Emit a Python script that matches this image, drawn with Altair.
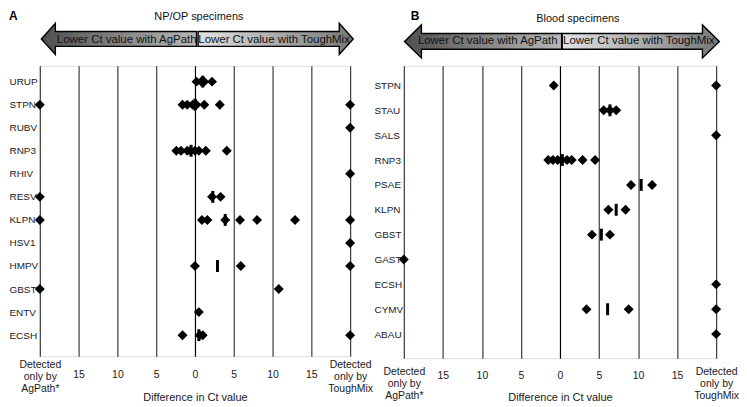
import altair as alt
import pandas as pd

# ---------------- Panel A: NP/OP specimens ----------------
A_ROWS = ["URUP", "STPN", "RUBV", "RNP3", "RHIV", "RESV",
          "KLPN", "HSV1", "HMPV", "GBST", "ENTV", "ECSH"]
A_URUP = [0.2, 0.8, 1.2, 2.2]
A_STPN = [-20, -1.6, -1.0, -0.3, 0.2, 1.2, 3.2, 20]
A_RUBV = [20]
A_RNP3 = [-2.4, -1.8, -1.0, -0.6, 0.0, 0.5, 1.4, 4.1]
A_RHIV = [20]
A_RESV = [-20, 2.2, 3.3]
A_KLPN = [-20, 0.9, 1.6, 3.9, 5.8, 8.0, 12.9, 20]
A_HSV1 = [20]
A_HMPV = [0.0, 5.9, 20]
A_GBST = [-20, 10.8]
A_ENTV = [0.5]
A_ECSH = [-1.6, 0.6, 1.0, 20]
A_MEDIAN_ROWS = ["URUP", "STPN", "RNP3", "RESV", "KLPN", "HMPV", "ECSH"]
A_MEDIAN_VALS = [1.0, 0.0, -0.5, 2.3, 3.9, 2.9, 0.5]

# ---------------- Panel B: Blood specimens ----------------
B_ROWS = ["STPN", "STAU", "SALS", "RNP3", "PSAE", "KLPN",
          "GBST", "GAST", "ECSH", "CYMV", "ABAU"]
B_STPN = [-0.8, 20]
B_STAU = [5.6, 6.4, 7.2]
B_SALS = [20]
B_RNP3 = [-1.5, -0.9, -0.3, 0.2, 0.9, 1.5, 2.9, 4.5]
B_PSAE = [9.1, 11.8]
B_KLPN = [6.2, 8.4]
B_GBST = [4.1, 6.4]
B_GAST = [-20]
B_ECSH = [20]
B_CYMV = [3.4, 8.8, 20]
B_ABAU = [20]
B_MEDIAN_ROWS = ["STAU", "RNP3", "PSAE", "KLPN", "GBST", "CYMV"]
B_MEDIAN_VALS = [6.4, 0.3, 10.4, 7.2, 5.3, 6.1]

TICK_VALUES = [-20, -15, -10, -5, 0, 5, 10, 15, 20]
ARROW_LABELS = ["Lower Ct value with AgPath", "Lower Ct value with ToughMix"]
FONT = "Liberation Sans"


def points_frame(rows, lists):
    recs = []
    for r, vals in zip(rows, lists):
        for v in vals:
            recs.append({"row": r, "ct": v})
    return pd.DataFrame(recs)


a_pts = points_frame(A_ROWS, [A_URUP, A_STPN, A_RUBV, A_RNP3, A_RHIV, A_RESV,
                              A_KLPN, A_HSV1, A_HMPV, A_GBST, A_ENTV, A_ECSH])
a_med = pd.DataFrame({"row": A_MEDIAN_ROWS, "ct": A_MEDIAN_VALS})
b_pts = points_frame(B_ROWS, [B_STPN, B_STAU, B_SALS, B_RNP3, B_PSAE, B_KLPN,
                              B_GBST, B_GAST, B_ECSH, B_CYMV, B_ABAU])
b_med = pd.DataFrame({"row": B_MEDIAN_ROWS, "ct": B_MEDIAN_VALS})


def arrow_path(direction, head_len, head_half, body_half):
    # unit path (x in [-1, 1]); scaled by the symbol size
    if direction == "left":
        h = -1 + head_len
        return (f"M -1 0 L {h} {-head_half} L {h} {-body_half} L 1 {-body_half} "
                f"L 1 {body_half} L {h} {body_half} L {h} {head_half} Z")
    h = 1 - head_len
    return (f"M 1 0 L {h} {-head_half} L {h} {-body_half} L -1 {-body_half} "
            f"L -1 {body_half} L {h} {body_half} L {h} {head_half} Z")


LEFT_GRAD = alt.LinearGradient(
    gradient="linear", x1=0, x2=1, y1=0, y2=0,
    stops=[alt.GradientStop(color="#4f4f4f", offset=0),
           alt.GradientStop(color="#b8b8b8", offset=1)])
RIGHT_GRAD = alt.LinearGradient(
    gradient="linear", x1=0, x2=1, y1=0, y2=0,
    stops=[alt.GradientStop(color="#e2e2e2", offset=0),
           alt.GradientStop(color="#767676", offset=1)])


def panel(rows, pts, med, width, height, pad, align, ylabpad,
          letter, letter_x, letter_y, title, title_ct, title_y,
          arrow_w, arrow_y, arrow_cts, head_len, head_half, body_half,
          text_cts, text_y, lab_pad_num, lab_pad_multi, title_off):
    xscale = alt.Scale(domain=[-20, 20], nice=False, zero=False)
    xaxis = alt.Axis(
        values=TICK_VALUES,
        labelExpr="datum.value == -20 ? ['Detected','only by','AgPath*'] : "
                  "datum.value == 20 ? ['Detected','only by','ToughMix'] : abs(datum.value)",
        grid=True,
        gridColor={"condition": {"test": "datum.value === 0", "value": "#000000"},
                   "value": "#3c3c3c"},
        gridWidth=1.2,
        ticks=False, tickSize=0, domain=False,
        labelFlush=False, labelOverlap=False, labelBound=False,
        labelBaseline="middle", labelLineHeight=12.5,
        labelPadding={"condition": {"test": "abs(datum.value) == 20", "value": lab_pad_multi},
                      "value": lab_pad_num},
        labelFontSize=10.5, labelColor="#1a1a1a", labelFont=FONT,
        title="Difference in Ct value", titleFontSize=11, titleFontWeight="normal",
        titleColor="#1a1a1a", titleFont=FONT, titleBaseline="middle", titleY=title_off,
    )
    x_enc = alt.X("ct:Q", scale=xscale, axis=xaxis)
    yaxis = alt.Axis(title=None, labelAlign="left", labelPadding=ylabpad,
                     ticks=False, tickSize=0, domain=False, grid=False,
                     labelFontSize=10, labelColor="#1a1a1a", labelFont=FONT)
    yscale = alt.Scale(type="point", domain=rows, padding=pad, align=align)
    y_enc = alt.Y("row:N", scale=yscale, axis=yaxis, sort=rows)

    diamonds = alt.Chart(pts).mark_point(
        shape="diamond", filled=True, size=100, color="black", opacity=1
    ).encode(x=x_enc, y=y_enc)
    medians = alt.Chart(med).mark_tick(
        color="black", thickness=3, size=12, opacity=1
    ).encode(x=x_enc, y=y_enc)

    size = arrow_w ** 2
    arrows = []
    for ct, direction, grad in zip(arrow_cts, ["left", "right"], [LEFT_GRAD, RIGHT_GRAD]):
        arrows.append(
            alt.Chart(pd.DataFrame({"ct": [ct]})).mark_point(
                shape=arrow_path(direction, head_len, head_half, body_half),
                size=size, filled=True, fill=grad, stroke="black",
                strokeWidth=1.4, opacity=1,
            ).encode(x=x_enc, y=alt.value(arrow_y))
        )
    arrow_text = alt.Chart(pd.DataFrame({"ct": text_cts, "label": ARROW_LABELS})).mark_text(
        fontSize=11.5, font=FONT, color="#111111", baseline="middle", align="center"
    ).encode(x=x_enc, y=alt.value(text_y), text="label:N")
    title_mark = alt.Chart(pd.DataFrame({"ct": [title_ct], "label": [title]})).mark_text(
        fontSize=11, font=FONT, color="#111111", baseline="middle", align="center"
    ).encode(x=x_enc, y=alt.value(title_y), text="label:N")
    letter_mark = alt.Chart(pd.DataFrame({"label": [letter]})).mark_text(
        fontSize=12, font=FONT, fontWeight="bold", color="black",
        baseline="top", align="left"
    ).encode(x=alt.value(letter_x), y=alt.value(letter_y), text="label:N")

    return alt.layer(diamonds, medians, *arrows, arrow_text, title_mark,
                     letter_mark).properties(width=width, height=height)


panel_a = panel(A_ROWS, a_pts, a_med, 312, 292, 0.8, 0.43, 31,
                "A", -31, -55, "NP/OP specimens", 0.5, -49,
                156, -27, [-9.8, 10.4], 0.18, 0.2, 0.096,
                [-8.8, 10.2], -26, 18, 8, 42)
panel_b = panel(B_ROWS, b_pts, b_med, 314, 294, 0.88, 0.45, 30,
                "B", 7, -55, "Blood specimens", 2.3, -47,
                158, -24.5, [-9.85, 10.35], 0.215, 0.21, 0.1,
                [-9.25, 10.1], -25, 17, 13, 40)

chart = alt.hconcat(panel_a, panel_b, spacing=0).properties(
    padding={"left": 0, "top": 0, "right": 0, "bottom": 0}
).configure_view(stroke="#1a1a1a", strokeWidth=1.2).configure(font=FONT)

chart.save("out.html", embed_options={"renderer": "svg", "actions": False})
